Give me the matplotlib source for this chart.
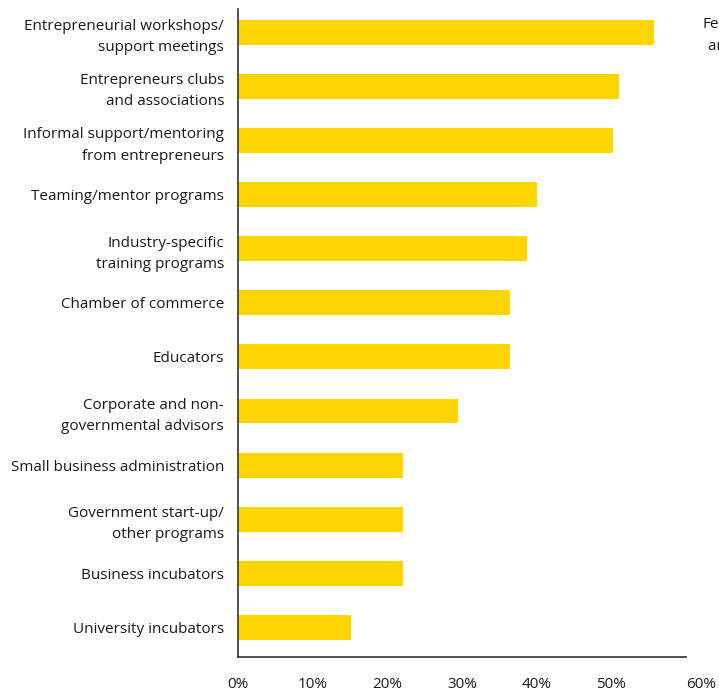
import matplotlib.pyplot as plt
from matplotlib.transforms import ScaledTranslation

# support sources, top to bottom
categories = [
    "Entrepreneurial workshops/\nsupport meetings",
    "Entrepreneurs clubs\nand associations",
    "Informal support/mentoring\nfrom entrepreneurs",
    "Teaming/mentor programs",
    "Industry-specific\ntraining programs",
    "Chamber of commerce",
    "Educators",
    "Corporate and non-\ngovernmental advisors",
    "Small business administration",
    "Government start-up/\nother programs",
    "Business incubators",
    "University incubators",
]
values = [55.7, 51, 50.2, 40, 38.7, 36.4, 36.4, 29.5, 22.1, 22.1, 22.1, 15.1]
ticks = [0, 10, 20, 30, 40, 50, 60]
tick_labels = ["0%", "10%", "20%", "30%", "40%", "50%", "60%"]

plt.rcParams['font.family'] = ['Open Sans', 'DejaVu Sans']

fig = plt.figure(figsize=(7.19, 6.91), dpi=100)
ax = fig.add_axes([0.331, 0.049, 0.623, 0.938])

pos = list(range(len(categories)))
ax.barh(pos, values, height=0.46, color="#FFD500")
ax.set_ylim(len(categories) - 1 + 0.55, -0.43)
ax.set_xlim(0, 60)

ax.set_yticks(pos)
ax.set_yticklabels(categories, fontsize=11, color="#1a1a1a", linespacing=1.55)
ax.set_xticks(ticks)
ax.set_xticklabels(tick_labels, fontsize=11, color="#1a1a1a")
ax.tick_params(axis="y", length=0, pad=10)
ax.tick_params(axis="x", length=0, pad=14)

# last tick label sits a bit to the right of the axis end
last = ax.get_xticklabels()[-1]
last.set_transform(last.get_transform() + ScaledTranslation(0.15, 0, fig.dpi_scale_trans))

for side in ["top", "right"]:
    ax.spines[side].set_visible(False)
for side in ["left", "bottom"]:
    ax.spines[side].set_color("#333333")
    ax.spines[side].set_linewidth(1.2)

# legend text running off the right edge
fig.text(703 / 719, 1 - 25 / 691, "Female", fontsize=11, color="#1a1a1a", va="center")
fig.text(708 / 719, 1 - 46 / 691, "and male", fontsize=11, color="#1a1a1a", va="center")

fig.savefig("out.png", dpi=100)
